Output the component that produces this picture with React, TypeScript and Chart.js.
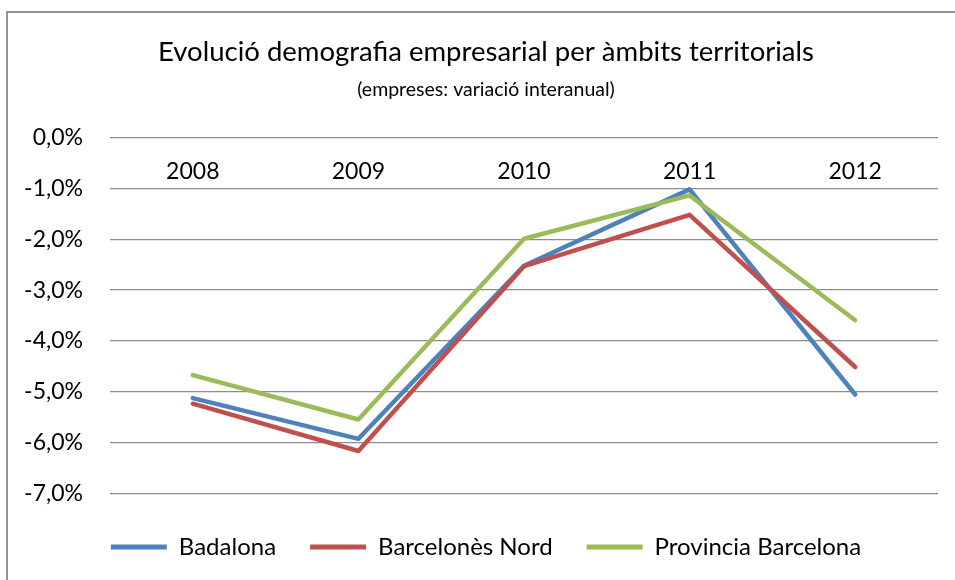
import React, { useEffect, useRef } from "react";
import { Chart, registerables } from "chart.js";

Chart.register(...registerables);

const categories = ["2008", "2009", "2010", "2011", "2012"];
const badalona = [-5.12, -5.92, -2.52, -1.02, -5.05];
const barcelonesNord = [-5.23, -6.16, -2.53, -1.52, -4.51];
const provinciaBarcelona = [-4.67, -5.54, -1.99, -1.14, -3.59];
const seriesNames = ["Badalona", "Barcelonès Nord", "Provincia Barcelona"];
const seriesColors = ["#4F81BD", "#C0504D", "#9BBB59"];
const titleText = "Evolució demografia empresarial per àmbits territorials";
const subtitleText = "(empreses: variació interanual)";

const FONT = "Lato, 'Open Sans', sans-serif";

export default function App() {
  const ref = useRef<HTMLCanvasElement>(null);

  useEffect(() => {
    if (!ref.current) return;
    const values = [badalona, barcelonesNord, provinciaBarcelona];
    const chart = new Chart(ref.current, {
      type: "line",
      data: {
        labels: categories,
        datasets: values.map((v, i) => ({
          label: seriesNames[i],
          data: v,
          borderColor: seriesColors[i],
          backgroundColor: seriesColors[i],
          borderWidth: 4.5,
          pointRadius: 0,
          pointHoverRadius: 0,
          tension: 0,
          borderCapStyle: "round" as const,
          borderJoinStyle: "round" as const,
          fill: false,
          order: 2 - i,
          yAxisID: "y",
        })),
      },
      options: {
        animation: false,
        responsive: false,
        devicePixelRatio: 1,
        layout: { padding: { left: 20, right: 3, top: 0, bottom: 11 } },
        plugins: {
          tooltip: { enabled: false },
          title: {
            display: true,
            text: titleText,
            color: "#000",
            font: { family: FONT, size: 27.5, weight: "normal" },
            padding: { top: 36, bottom: 0 },
          },
          subtitle: {
            display: true,
            text: subtitleText,
            color: "#000",
            font: { family: FONT, size: 19.5, weight: "normal" },
            padding: { top: 9, bottom: 36 },
          },
          legend: {
            position: "bottom",
            title: {
              display: true,
              text: " ",
              font: { size: 1 },
              padding: { top: 6, bottom: 0 },
            },
            labels: {
              color: "#000",
              font: { family: FONT, size: 24 },
              boxWidth: 56,
              boxHeight: 5,
              padding: 34,
              sort: (a: any, b: any) => a.datasetIndex - b.datasetIndex,
              generateLabels: (c: any) =>
                c.data.datasets.map((d: any, i: number) => ({
                  text: d.label,
                  fillStyle: d.borderColor,
                  strokeStyle: d.borderColor,
                  lineWidth: 0,
                  hidden: false,
                  datasetIndex: i,
                  fontColor: "#000",
                })),
            },
          },
        },
        scales: {
          x: {
            type: "category",
            position: { y: 0 } as any,
            offset: true,
            grid: { display: false, drawTicks: false },
            border: { display: false },
            ticks: {
              color: "#000",
              font: { family: FONT, size: 23 },
              padding: 20,
              maxRotation: 0,
            },
          },
          y: {
            min: -7,
            max: 0,
            grid: { color: "#8c8c8c", lineWidth: 1.3, drawTicks: false },
            border: { display: false },
            afterFit: (s: any) => {
              s.width = 90;
            },
            ticks: {
              stepSize: 1,
              color: "#000",
              font: { family: FONT, size: 23 },
              padding: 27,
              callback: (v: any) => Number(v).toFixed(1).replace(".", ",") + "%",
            },
          },
          yRight: {
            position: "right",
            min: -7,
            max: 0,
            grid: { display: false, drawTicks: false },
            border: { display: false },
            ticks: { display: false },
            afterFit: (s: any) => {
              s.width = 14;
            },
          },
        },
      },
    });
    return () => chart.destroy();
  }, []);

  return (
    <div
      style={{
        position: "absolute",
        left: 0,
        top: 0,
        width: 955,
        height: 580,
        overflow: "hidden",
        background: "#fff",
      }}
    >
      <canvas ref={ref} width={955} height={580} style={{ display: "block" }} />
      <div
        style={{
          position: "absolute",
          left: 6,
          top: 11,
          width: 990,
          height: 620,
          border: "2px solid #939393",
          pointerEvents: "none",
        }}
      />
    </div>
  );
}
